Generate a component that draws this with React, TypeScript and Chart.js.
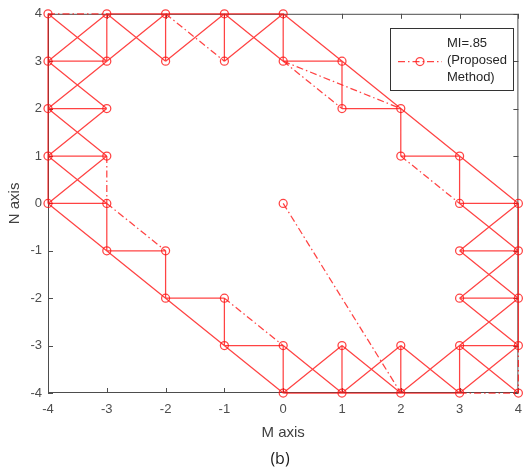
import React, { useEffect, useRef } from "react";
import { Chart, registerables } from "chart.js";

Chart.register(...registerables);

// Axis range and tick values (both axes share the same grid)
const mTicks = [-4, -3, -2, -1, 0, 1, 2, 3, 4];
const nTicks = [-4, -3, -2, -1, 0, 1, 2, 3, 4];

// Grid nodes marked with circles
const nodes: number[][] = [
  [-4, 4], [-3, 4], [-2, 4], [-1, 4], [0, 4],
  [-4, 3], [-3, 3], [-2, 3], [-1, 3], [0, 3], [1, 3],
  [-4, 2], [-3, 2], [1, 2], [2, 2],
  [-4, 1], [-3, 1], [2, 1], [3, 1],
  [-4, 0], [-3, 0], [0, 0], [3, 0], [4, 0],
  [-3, -1], [-2, -1], [3, -1], [4, -1],
  [-2, -2], [-1, -2], [3, -2], [4, -2],
  [-1, -3], [0, -3], [1, -3], [2, -3], [3, -3], [4, -3],
  [0, -4], [1, -4], [2, -4], [3, -4], [4, -4],
];

// Solid links [x1, y1, x2, y2]
const solidLinks: number[][] = [
  // top row
  [-3, 4, 0, 4],
  [-4, 4, -3, 3], [-4, 3, -3, 4], [-3, 4, -3, 3],
  [-3, 4, -2, 3], [-2, 4, -3, 3], [-2, 4, -2, 3],
  [-1, 4, -2, 3], [-1, 4, -1, 3],
  [-1, 4, 0, 3], [0, 4, -1, 3], [0, 4, 0, 3],
  [0, 4, 4, 0],
  // left column
  [-4, 4, -4, 0],
  [-4, 3, -3, 3], [-4, 2, -3, 2], [-4, 1, -3, 1], [-4, 0, -3, 0],
  [-4, 3, -3, 2], [-3, 3, -4, 2],
  [-4, 2, -3, 1], [-3, 2, -4, 1],
  [-4, 1, -3, 0], [-3, 1, -4, 0],
  // upper right staircase
  [0, 3, 1, 3], [1, 3, 1, 2], [1, 2, 2, 2], [2, 2, 2, 1],
  [2, 1, 3, 1], [3, 1, 3, 0], [3, 0, 4, 0],
  // lower left staircase
  [-3, 0, -3, -1], [-3, -1, -2, -1], [-2, -1, -2, -2], [-2, -2, -1, -2],
  [-1, -2, -1, -3], [-1, -3, 0, -3], [0, -3, 0, -4],
  [-4, 0, 0, -4],
  // bottom row
  [0, -4, 3, -4],
  [1, -3, 1, -4], [2, -3, 2, -4], [3, -3, 3, -4],
  [0, -3, 1, -4], [0, -4, 1, -3],
  [1, -3, 2, -4], [1, -4, 2, -3],
  [2, -3, 3, -4], [2, -4, 3, -3],
  [3, -3, 4, -4], [3, -4, 4, -3],
  // right column
  [4, 0, 4, -3],
  [3, -1, 4, -1], [3, -2, 4, -2], [3, -3, 4, -3],
  [3, 0, 4, -1], [4, 0, 3, -1],
  [3, -1, 4, -2], [4, -1, 3, -2],
  [3, -2, 4, -3], [4, -2, 3, -3],
];

// Dash-dot links [x1, y1, x2, y2]
const dashLinks: number[][] = [
  [-4, 4, -3, 4],
  [-2, 4, -1, 3],
  [0, 3, 1, 2],
  [0, 3, 2, 2],
  [2, 1, 3, 0],
  [-3, 1, -3, 0],
  [-3, 0, -2, -1],
  [-1, -2, 0, -3],
  [0, 0, 2, -4],
  [3, -4, 4, -4],
  [4, -3, 4, -4],
];

const legendLines = ["MI=.85", "(Proposed", "Method)"];
const mLabel = "M axis";
const nLabel = "N axis";
const caption = "(b)";

const RED = "rgba(255,20,20,0.8)";
const AXIS = "#4d4d4d";
const FONT = "'Liberation Sans', Arial, Helvetica, sans-serif";
const DASH = [7, 3, 1.5, 3];
const LINE_W = 1.25;
const MARK_R = 4;

function linksToData(links: number[][]) {
  const out: { x: number; y: number | null }[] = [];
  links.forEach(([x1, y1, x2, y2]) => {
    out.push({ x: x1, y: y1 }, { x: x2, y: y2 }, { x: x2, y: null });
  });
  return out;
}

// Axes box with inward ticks, drawn under the data; legend and caption on top
const boxPlugin = {
  id: "matlabBox",
  beforeDatasetsDraw(chart: any) {
    const { ctx, chartArea: a, scales } = chart;
    ctx.save();
    ctx.strokeStyle = AXIS;
    ctx.lineWidth = 1;
    ctx.strokeRect(a.left + 0.5, a.top + 0.5, a.right - a.left - 1, a.bottom - a.top - 1);
    const len = 5;
    ctx.beginPath();
    mTicks.forEach((v) => {
      const px = Math.round(scales.x.getPixelForValue(v)) + 0.5;
      ctx.moveTo(px, a.bottom);
      ctx.lineTo(px, a.bottom - len);
      ctx.moveTo(px, a.top);
      ctx.lineTo(px, a.top + len);
    });
    nTicks.forEach((v) => {
      const py = Math.round(scales.y.getPixelForValue(v)) + 0.5;
      ctx.moveTo(a.left, py);
      ctx.lineTo(a.left + len, py);
      ctx.moveTo(a.right, py);
      ctx.lineTo(a.right - len, py);
    });
    ctx.stroke();
    ctx.restore();
  },
  afterDraw(chart: any) {
    const { ctx } = chart;
    ctx.save();
    // legend box
    const bx = 390.5, by = 28.5, bw = 123, bh = 62;
    ctx.fillStyle = "#fff";
    ctx.fillRect(bx, by, bw, bh);
    ctx.strokeStyle = "#333";
    ctx.lineWidth = 1;
    ctx.strokeRect(bx, by, bw, bh);
    ctx.strokeStyle = RED;
    ctx.lineWidth = LINE_W;
    ctx.setLineDash(DASH);
    ctx.beginPath();
    ctx.moveTo(398, 61.5);
    ctx.lineTo(442, 61.5);
    ctx.stroke();
    ctx.setLineDash([]);
    ctx.beginPath();
    ctx.arc(420, 61.5, MARK_R, 0, Math.PI * 2);
    ctx.stroke();
    ctx.fillStyle = "#262626";
    ctx.font = `13px ${FONT}`;
    ctx.textAlign = "left";
    ctx.textBaseline = "middle";
    legendLines.forEach((t, i) => ctx.fillText(t, 447, 43 + i * 17));
    // caption
    ctx.fillStyle = "#1a1a1a";
    ctx.font = `16px 'Open Sans', ${FONT}`;
    ctx.textAlign = "center";
    ctx.fillText(caption, 280, 459);
    ctx.restore();
  },
};

export default function App() {
  const ref = useRef<HTMLCanvasElement | null>(null);

  useEffect(() => {
    document.body.style.margin = "0";
    if (!ref.current) return;
    const chart = new Chart(ref.current, {
      type: "line",
      data: {
        datasets: [
          {
            data: linksToData(solidLinks),
            borderColor: RED,
            borderWidth: LINE_W,
            tension: 0.000001,
            pointRadius: 0,
            spanGaps: false,
            fill: false,
            clip: false,
          },
          {
            data: linksToData(dashLinks),
            borderColor: RED,
            borderWidth: LINE_W,
            borderDash: DASH,
            pointRadius: 0,
            spanGaps: false,
            fill: false,
            clip: false,
          },
          {
            data: nodes.map(([x, y]) => ({ x, y })),
            showLine: false,
            pointRadius: MARK_R,
            pointBorderWidth: LINE_W,
            pointBorderColor: RED,
            pointBackgroundColor: "rgba(0,0,0,0)",
            clip: false,
          },
        ],
      },
      options: {
        animation: false,
        responsive: false,
        layout: { padding: { top: 13, right: 3, bottom: 30, left: 0 } },
        plugins: { legend: { display: false }, tooltip: { enabled: false } },
        scales: {
          x: {
            type: "linear",
            min: -4,
            max: 4,
            afterFit: (s: any) => { s.height = 49; },
            afterBuildTicks: (s: any) => { s.ticks = mTicks.map((v) => ({ value: v })); },
            grid: { display: false, drawTicks: false },
            border: { display: false },
            ticks: {
              padding: 9,
              color: "#4d4d4d",
              font: { family: FONT, size: 13 },
              callback: (v: any) => String(v),
            },
            title: {
              display: true,
              text: mLabel,
              color: "#404040",
              font: { family: FONT, size: 15 },
              padding: { top: 0, bottom: 0 },
            },
          },
          y: {
            type: "linear",
            min: -4,
            max: 4,
            afterFit: (s: any) => { s.width = 48; },
            afterBuildTicks: (s: any) => { s.ticks = nTicks.map((v) => ({ value: v })); },
            grid: { display: false, drawTicks: false },
            border: { display: false },
            ticks: {
              padding: 6,
              color: "#4d4d4d",
              font: { family: FONT, size: 13 },
              callback: (v: any) => String(v),
            },
            title: {
              display: true,
              text: nLabel,
              color: "#404040",
              font: { family: FONT, size: 15 },
              padding: { top: 6, bottom: 0 },
            },
          },
        },
      },
      plugins: [boxPlugin],
    });
    return () => chart.destroy();
  }, []);

  return (
    <div style={{ width: 531, height: 472, background: "#fff" }}>
      <canvas ref={ref} width={531} height={472} />
    </div>
  );
}
